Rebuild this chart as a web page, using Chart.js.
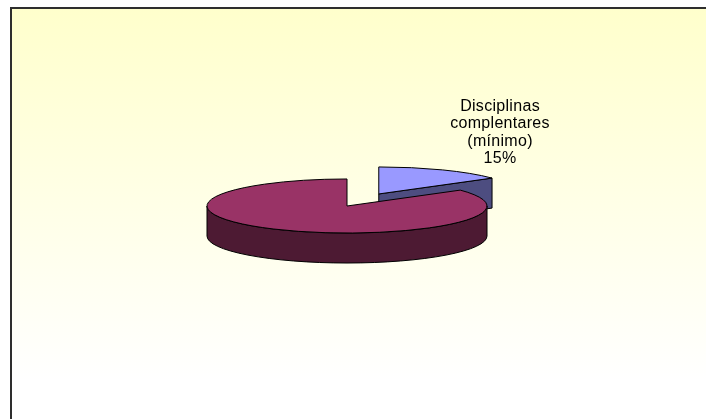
<!DOCTYPE html>
<html>
<head>
<meta charset="utf-8">
<script src="https://cdn.jsdelivr.net/npm/chart.js@4"></script>
<style>
  html, body { margin: 0; padding: 0; background: #fff; }
  #frame {
    position: absolute; left: 10px; top: 7px; right: 0; bottom: 0;
    border-top: 2px solid #2e2e2e; border-left: 2px solid #2e2e2e;
    background: linear-gradient(#ffffcc 0px, #ffffff 372px, #ffffff 100%);
  }
  #grafico { position: absolute; left: 0; top: 0; }
</style>
</head>
<body>
<div id="frame"></div>
<canvas id="grafico" width="706" height="419"></canvas>
<script>
// categorias (uma linha do rótulo por item) e percentagens
const categorias = [["Disciplinas", "complentares", "(mínimo)"], [""]];
const percentagens = [15, 85];

// escurece uma cor hex pela fração f (lados da pizza 3D)
function escurecer(hex, f) {
    const n = parseInt(hex.slice(1), 16);
    const r = Math.round(((n >> 16) & 255) * f);
    const g = Math.round(((n >> 8) & 255) * f);
    const b = Math.round((n & 255) * f);
    return `rgb(${r},${g},${b})`;
}

// calcula centro deslocado, raio e ângulos de cada fatia
function fatiasDe(chart, opts) {
    const meta = chart.getDatasetMeta(0);
    const k = opts.inclinacao;
    return meta.data.map((el, i) => {
        const meio = (el.startAngle + el.endAngle) / 2;
        const e = opts.destaque[i] || 0;
        const dx = Math.cos(meio) * e;
        const dy = Math.sin(meio) * e * k;
        return {
            el, i, dx, dy,
            cx: el.x + dx,
            cy: opts.centroY + dy,
            r: el.outerRadius,
            a0: el.startAngle,
            a1: el.endAngle,
            cor: el.options.backgroundColor
        };
    });
}

const pizza3d = {
    id: "pizza3d",
    beforeDatasetsDraw(chart, args, opts) {
        const ctx = chart.ctx;
        const k = opts.inclinacao;
        const prof = opts.profundidade;
        const fatias = fatiasDe(chart, opts);

        // faces laterais visíveis (curva da frente e cortes radiais)
        const faces = [];
        fatias.forEach(f => {
            for (let n = -1; n <= 2; n++) {
                const lo = Math.max(f.a0, 2 * Math.PI * n);
                const hi = Math.min(f.a1, 2 * Math.PI * n + Math.PI);
                if (hi > lo) {
                    faces.push({ f, tipo: "curva", lo, hi,
                        chave: f.cy + f.r * k * Math.sin((lo + hi) / 2) });
                }
            }
            [[f.a0, f.a0 - Math.PI / 2], [f.a1, f.a1 + Math.PI / 2]].forEach(([a, normal]) => {
                if (Math.sin(normal) > 1e-6) {
                    faces.push({ f, tipo: "corte", a,
                        chave: f.cy + 0.5 * f.r * k * Math.sin(a) });
                }
            });
        });
        faces.sort((p, q) => p.chave - q.chave);

        ctx.save();
        ctx.lineWidth = 1;
        ctx.strokeStyle = "#000";
        ctx.lineJoin = "round";
        faces.forEach(face => {
            const f = face.f;
            ctx.beginPath();
            if (face.tipo === "curva") {
                ctx.ellipse(f.cx, f.cy, f.r, f.r * k, 0, face.lo, face.hi);
                ctx.lineTo(f.cx + f.r * Math.cos(face.hi), f.cy + f.r * k * Math.sin(face.hi) + prof);
                ctx.ellipse(f.cx, f.cy + prof, f.r, f.r * k, 0, face.hi, face.lo, true);
            } else {
                const px = f.cx + f.r * Math.cos(face.a);
                const py = f.cy + f.r * k * Math.sin(face.a);
                ctx.moveTo(f.cx, f.cy);
                ctx.lineTo(px, py);
                ctx.lineTo(px, py + prof);
                ctx.lineTo(f.cx, f.cy + prof);
            }
            ctx.closePath();
            ctx.fillStyle = escurecer(f.cor, 0.5);
            ctx.fill();
            ctx.stroke();
        });

        // tampas: o próprio arco do Chart.js, achatado
        fatias.slice().sort((p, q) => p.cy - q.cy).forEach(f => {
            ctx.save();
            ctx.translate(f.dx, opts.centroY + f.dy);
            ctx.scale(1, k);
            ctx.translate(0, -f.el.y);
            f.el.draw(ctx);
            ctx.restore();

            ctx.beginPath();
            ctx.moveTo(f.cx, f.cy);
            ctx.ellipse(f.cx, f.cy, f.r, f.r * k, 0, f.a0, f.a1);
            ctx.closePath();
            ctx.stroke();
        });
        ctx.restore();
        return false;
    },
    afterDraw(chart, args, opts) {
        const ctx = chart.ctx;
        const k = opts.inclinacao;
        const total = percentagens.reduce((s, v) => s + v, 0);
        fatiasDe(chart, opts).forEach(f => {
            const nome = categorias[f.i].filter(t => t);
            if (!nome.length) return;
            const linhas = nome.concat(Math.round(percentagens[f.i] / total * 100) + "%");
            const tx = f.cx + f.r * Math.cos(f.a1);
            const ty = f.cy + f.r * k * Math.sin(f.a1);
            ctx.save();
            ctx.font = "16px 'Liberation Sans', Arial, sans-serif";
            ctx.letterSpacing = "0.3px";
            ctx.fillStyle = "#000";
            ctx.textAlign = "center";
            ctx.textBaseline = "alphabetic";
            const base = ty + opts.rotulo.dy;
            linhas.forEach((t, j) => {
                ctx.fillText(t, tx + opts.rotulo.dx, base - (linhas.length - 1 - j) * opts.rotulo.entrelinha);
            });
            ctx.restore();
        });
    }
};

new Chart(document.getElementById("grafico"), {
    type: "pie",
    data: {
        labels: categorias,
        datasets: [{
            data: percentagens,
            backgroundColor: ["#9999ff", "#993366"],
            borderWidth: 0
        }]
    },
    options: {
        responsive: false,
        devicePixelRatio: 1,
        animation: false,
        events: [],
        radius: 140,
        layout: { padding: { left: 0, right: 12 } },
        plugins: {
            legend: { display: false },
            tooltip: { enabled: false },
            pizza3d: {
                inclinacao: 0.193,
                profundidade: 30,
                centroY: 206,
                destaque: [70, 0],
                rotulo: { dx: 8, dy: -15, entrelinha: 17.3 }
            }
        }
    },
    plugins: [pizza3d]
});
</script>
</body>
</html>
